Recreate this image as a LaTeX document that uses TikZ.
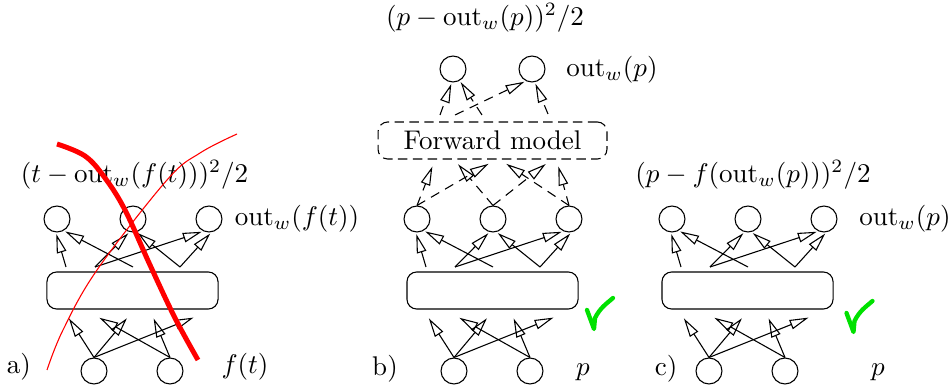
\documentclass[tikz,border=0pt]{standalone}
\usetikzlibrary{arrows.meta}
\definecolor{chk}{RGB}{0,225,0}
\newcommand\netpanel{%
  \node[neuron] (c1) at (57,219) {};
  \node[neuron] (c2) at (133,219) {};
  \node[neuron] (c3) at (209,219) {};
  \node[layerbox] (box) at (132.5,290.5) {};
  \node[neuron] (b1) at (94,371) {};
  \node[neuron] (b2) at (170,371) {};
  \coordinate (s1) at (66,267);
  \coordinate (s2) at (95,267);
  \coordinate (s3) at (133,267);
  \coordinate (s4) at (180,267);
  \coordinate (e1) at (68,317);
  \coordinate (e2) at (98,317);
  \coordinate (e3) at (128,317);
  \coordinate (e4) at (153,317);
  \coordinate (e5) at (195,317);
  \draw[arr] (s1) -- (c1.265);
  \draw[arr] (s3) -- (c1.300);
  \draw[arr] (s2) -- (c2.255);
  \draw[arr] (s2) -- (c3.245);
  \draw[arr] (s4) -- (c2.285);
  \draw[arr] (s4) -- (c3.280);
  \draw[arr] (b1.north) -- (e1);
  \draw[arr] (b1.north) -- (e3);
  \draw[arr] (b1.north) -- (e5);
  \draw[arr] (b2.north) -- (e2);
  \draw[arr] (b2.north) -- (e4);
}
\begin{document}
\begin{tikzpicture}[x=0.37pt,y=-0.37pt,
  neuron/.style={circle,draw,minimum size=9.6pt,inner sep=0pt},
  layerbox/.style={draw,rounded corners=3.6pt,minimum width=63.3pt,minimum height=13.7pt,inner sep=0pt},
  fbox/.style={draw,dash pattern=on 3.5pt off 2pt,rounded corners=3.6pt,minimum width=84.7pt,minimum height=13.7pt,inner sep=0pt},
  arr/.style={-{Triangle[open,length=7pt,width=3.6pt]},shorten >=0.6pt},
  darr/.style={arr,dash pattern=on 3.5pt off 2.5pt},
  lbl/.style={inner sep=0pt},
  check/.style={chk,line width=1.6pt,line cap=round,line join=round}]
\useasboundingbox (0,0) rectangle (952,388);

% panel a
\begin{scope}[name prefix=a-]
  \netpanel
\end{scope}
% panel b
\begin{scope}[shift={(360,0)},name prefix=b-]
  \netpanel
\end{scope}
% panel c
\begin{scope}[shift={(615,0)},name prefix=c-]
  \netpanel
\end{scope}

% forward model part of panel b
\node[fbox] (fm) at (492.5,140.5) {Forward model};
\node[neuron] (t1) at (453,69) {};
\node[neuron] (t2) at (532,69) {};
\coordinate (u1) at (440,115);
\coordinate (u2) at (482,115);
\coordinate (u3) at (455,115);
\coordinate (u4) at (548,114);
\draw[darr] (u1) -- (t1.265);
\draw[darr] (u2) -- (t1.300);
\draw[darr] (u3) -- (t2.243);
\draw[darr] (u4) -- (t2.282);
\coordinate (v1) at (433,165);
\coordinate (v2) at (490,163);
\coordinate (v3) at (457,163);
\coordinate (v4) at (547,163);
\coordinate (v5) at (505,163);
\coordinate (v6) at (558,165);
\draw[darr] (b-c1.north) -- (v1);
\draw[darr] (b-c1.north) -- (v2);
\draw[darr] (b-c2.north) -- (v3);
\draw[darr] (b-c2.north) -- (v4);
\draw[darr] (b-c3.north) -- (v5);
\draw[darr] (b-c3.north) -- (v6);

% labels
\node[lbl] (fa) at (134.5,175) {$(t-\mathrm{out}_w(f(t)))^2/2$};
\node[lbl] (oa) at (297,219) {$\mathrm{out}_w(f(t))$};
\node[lbl,anchor=base] (ia) at (245,374) {$f(t)$};
\node[lbl,anchor=base] (la) at (19,374) {a)};
\node[lbl] (fb) at (485,18) {$(p-\mathrm{out}_w(p))^2/2$};
\node[lbl] (ob) at (612,70) {$\mathrm{out}_w(p)$};
\node[lbl,anchor=base] (ib) at (583,376) {$p$};
\node[lbl,anchor=base] (lb) at (385,376) {b)};
\node[lbl] (fc) at (753,175) {$(p-f(\mathrm{out}_w(p)))^2/2$};
\node[lbl] (oc) at (905,219) {$\mathrm{out}_w(p)$};
\node[lbl,anchor=base] (ic) at (878,376) {$p$};
\node[lbl,anchor=base] (lc) at (666,376) {c)};

% red strokes in panel a
\draw[red,line width=1.85pt] plot[smooth,tension=0.6] coordinates {(57,144) (85,156) (105,178) (125,210) (150,265) (175,318) (198,360)};
\draw[red,line width=0.4pt] plot[smooth,tension=0.6] coordinates {(47,370) (63,330) (97,270) (167,180) (200,153) (237,134)};

% green check marks
\draw[check] (587,310) -- (594,329) -- (595,318) .. controls (600,308) and (606,304) .. (613,298);
\draw[check] (846.5,313) -- (853.5,332) -- (854.5,321) .. controls (859.5,311) and (865.5,307) .. (872.5,301);
\end{tikzpicture}
\end{document}
